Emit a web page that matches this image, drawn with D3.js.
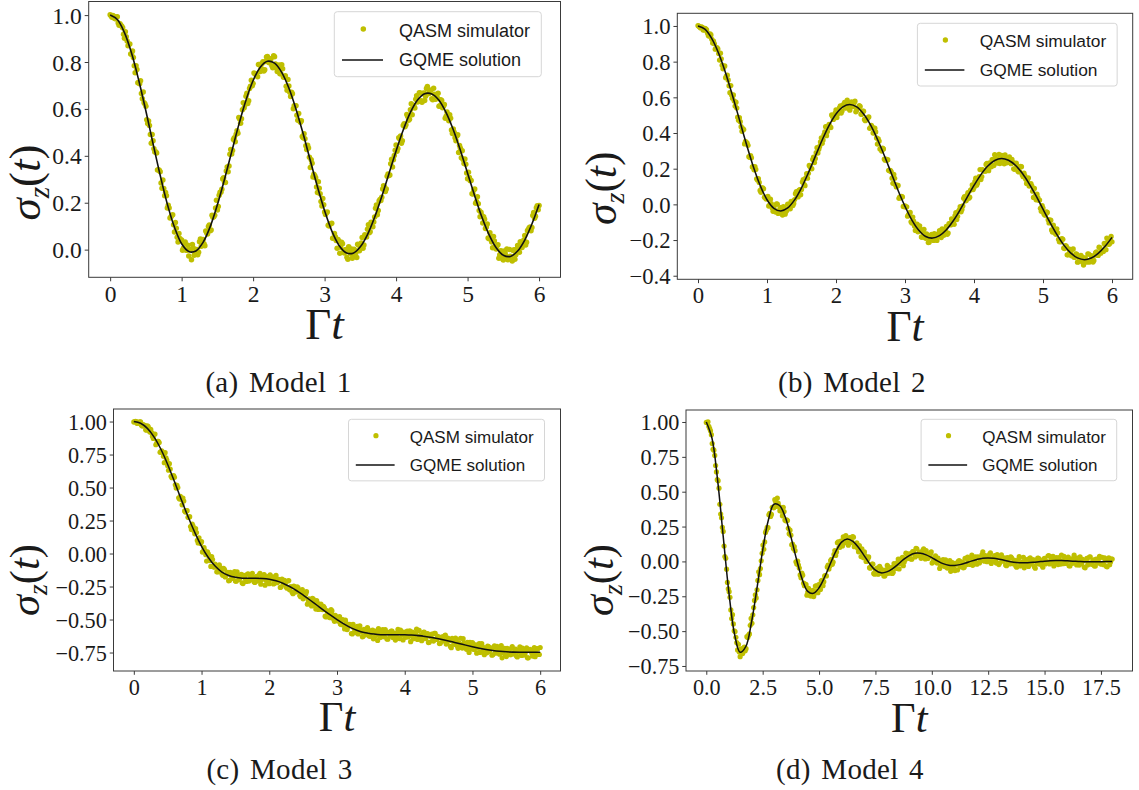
<!DOCTYPE html>
<html>
<head>
<meta charset="utf-8">
<script src="https://cdn.jsdelivr.net/npm/d3@7"></script>
<style>
  html, body { margin: 0; padding: 0; background: #fff; }
  svg { display: block; }
</style>
</head>
<body>
<svg id="fig" width="1139" height="790"></svg>
<script>
// ---------------------------------------------------------------------------
// Data. All σz values are stored in units of 10^-3.
// ---------------------------------------------------------------------------

// GQME solution, sampled every gqmeStep[k] in Γt, starting at Γt = 0
const gqme1 = [1000, 981, 925, 837, 722, 591, 452, 317, 194, 95, 25, -8, -6, 31, 98, 191, 300, 417, 533, 637, 721, 778, 803, 795, 756, 689, 599, 494, 380, 268, 166, 80, 19, -13, -15, 12, 64, 138, 227, 324, 421, 510, 585, 638, 665, 664, 637, 584, 511, 423, 326, 229, 139, 64, 8, -24, -29, -6, 41, 109, 192];
const gqme2 = [1000, 982, 929, 846, 737, 610, 475, 340, 214, 107, 26, -22, -37, -20, 25, 93, 177, 269, 361, 443, 507, 547, 560, 546, 506, 445, 365, 274, 176, 78, -11, -88, -145, -180, -189, -175, -142, -92, -30, 39, 106, 167, 215, 246, 257, 247, 219, 174, 115, 47, -27, -100, -168, -227, -272, -300, -310, -301, -275, -235, -185];
const gqme3 = [1000, 987, 948, 882, 790, 675, 545, 410, 280, 160, 55, -30, -95, -140, -166, -180, -187, -188, -187, -189, -195, -207, -225, -250, -280, -315, -352, -390, -428, -465, -500, -533, -561, -583, -599, -608, -613, -615, -615, -615, -616, -618, -622, -628, -636, -646, -657, -669, -681, -694, -706, -717, -727, -735, -741, -745, -747, -748, -748, -748, -748];
const gqme4 = [1000, 885, 585, 180, -220, -520, -652, -612, -440, -190, 80, 295, 410, 401, 318, 178, 16, -126, -215, -229, -189, -112, -17, 74, 138, 160, 143, 100, 42, -18, -63, -82, -75, -53, -21, 14, 42, 58, 58, 47, 27, 4, -16, -28, -29, -23, -12, 2, 14, 23, 25, 22, 15, 7, -2, -8, -10, -9, -6, -2, 2, 5, 6, 6, 4, 2, 0, -2, -3, -3, -2, -1, 0];
const gqmeStep = [0.1, 0.1, 0.1, 0.25];

// QASM simulator estimates. Run "a" sits at Γt = i*qasmStep[k],
// run "b" at the half steps in between, Γt = (i + 0.5)*qasmStep[k].
const qasm1a = [1001,991,995,984,993,957,957,946,901,908,
869,877,833,819,754,768,713,720,643,626,
611,538,529,454,464,416,412,341,332,262,
261,244,178,177,139,149,75,91,32,47,
41,6,32,-3,-27,-1,22,-24,-5,-22,
34,14,43,17,72,99,81,147,140,177,
169,232,245,301,288,335,332,407,408,470,
460,507,563,539,596,605,654,623,687,722,
708,750,748,789,760,794,762,802,823,797,
814,775,822,774,780,750,788,735,741,680,
698,653,665,614,613,552,548,549,477,473,
427,433,350,368,321,307,244,262,205,218,
160,157,104,110,113,50,55,6,36,10,
25,-14,1,-41,-8,3,-28,-5,-34,20,
5,52,20,57,87,72,117,98,139,190,
167,214,223,272,248,313,316,366,352,401,
446,431,473,454,529,524,576,552,596,575,
614,641,629,669,635,666,636,687,665,680,
643,688,641,649,611,639,605,619,569,576,
575,510,514,477,485,414,432,422,367,364,
302,308,295,237,258,205,196,140,146,140,
90,109,46,54,8,37,3,21,-22,-7,
-44,-14,3,-37,-28,-48,0,-22,18,-11,
26,26,60,31,86,97,94,158,142,187,
188];
const qasm1b = [997,998,985,992,966,963,952,918,929,890,
876,834,847,784,784,712,707,666,672,621,
554,548,491,491,430,417,340,338,284,297,
230,230,189,135,145,106,116,53,69,40,
-3,27,-3,19,-1,-43,7,-20,1,-11,
45,37,25,79,67,105,84,138,147,211,
184,245,257,307,286,352,357,427,423,477,
492,496,557,558,626,619,667,635,697,699,
753,747,737,789,773,801,767,821,800,812,
784,827,791,759,787,750,771,737,697,725,
671,671,601,614,573,580,543,482,494,443,
445,394,383,310,315,267,289,238,186,191,
150,160,101,110,49,69,39,43,-15,31,
-11,-2,-32,12,-16,-37,2,-13,23,-5,
28,6,63,54,106,76,115,118,176,149,
207,209,259,268,259,322,318,385,383,424,
419,477,485,464,537,533,568,556,622,608,
604,656,633,668,628,668,654,696,667,680,
639,663,643,667,614,636,611,560,587,549,
560,495,501,464,490,444,392,384,386,327,
330,294,238,254,198,225,167,159,114,130,
97,50,72,33,56,13,16,-37,-5,-38,
-6,-26,-43,1,-35,-4,-41,2,-4,34,
9,41,20,81,93,80,145,134,179,170];
const qasm2a = [1002,994,995,978,986,978,947,955,925,915,
870,878,845,847,780,770,710,724,665,666,
595,579,573,489,486,435,425,339,348,331,
264,261,212,212,143,144,78,92,87,39,
39,-9,29,-21,-18,-43,1,-38,-19,-60,
-21,-40,1,-17,17,-7,27,71,42,83,
83,138,105,172,174,211,199,265,257,318,
309,350,342,390,435,408,448,431,492,490,
529,508,541,512,557,571,542,561,528,574,
548,578,528,542,549,505,522,469,477,490,
429,434,401,406,338,355,312,315,254,254,
250,189,183,118,146,98,106,42,45,-12,
-9,-14,-59,-45,-105,-94,-146,-111,-148,-141,
-184,-140,-190,-178,-212,-173,-195,-164,-197,-169,
-148,-186,-156,-162,-124,-161,-108,-82,-100,-63,
-85,-40,-13,-29,34,20,51,34,80,109,
95,147,119,156,139,194,186,224,201,232,
211,251,278,242,253,229,275,246,277,233,
255,237,252,199,230,213,182,213,165,175,
141,133,103,116,74,89,26,38,24,-39,
-21,-60,-42,-86,-89,-143,-117,-160,-137,-196,
-196,-192,-245,-231,-283,-249,-274,-252,-296,-278,
-324,-298,-286,-324,-302,-314,-277,-323,-288,-323,
-284,-266,-286,-242,-258,-264,-225,-189,-224,-197,
-210];
const qasm2b = [999,989,992,977,984,960,943,950,904,900,
872,871,809,816,760,776,720,697,626,613,
613,551,540,471,463,410,419,353,343,267,
273,210,194,196,136,123,68,93,40,30,
44,-6,4,-39,-34,2,-51,-24,-39,-13,
-55,-33,0,-25,15,5,60,46,78,54,
125,112,149,147,218,204,252,234,290,288,
325,373,361,406,385,438,432,501,476,511,
487,518,552,524,557,540,584,538,564,548,
569,519,540,553,505,522,476,478,486,426,
442,400,427,372,367,311,299,311,248,247,
191,190,147,168,110,106,34,37,42,-12,
-15,-66,-48,-98,-71,-121,-121,-154,-120,-183,
-157,-183,-165,-214,-189,-168,-202,-176,-202,-163,
-180,-137,-173,-142,-168,-108,-115,-88,-112,-46,
-67,-31,-42,-9,43,21,66,40,83,83,
127,107,137,195,156,191,186,229,189,224,
250,218,257,232,280,250,269,227,253,235,
266,228,235,197,231,185,184,211,155,160,
117,148,106,104,39,46,57,23,-22,-7,
-52,-59,-45,-104,-89,-155,-137,-168,-160,-210,
-210,-196,-248,-234,-283,-265,-288,-250,-297,-279,
-322,-306,-294,-340,-300,-324,-279,-313,-294,-314,
-270,-285,-240,-274,-259,-219,-254,-210,-222,-180];
const qasm3a = [997,1001,986,993,998,966,972,938,967,931,
940,889,902,824,850,841,772,765,688,725,
665,681,585,586,577,496,500,413,411,420,
323,326,274,279,182,208,149,159,80,87,
90,17,23,-57,-3,-53,-24,-99,-80,-138,
-115,-107,-153,-113,-177,-149,-207,-142,-177,-159,
-209,-139,-198,-178,-223,-166,-195,-157,-209,-174,
-150,-214,-183,-205,-163,-232,-176,-159,-203,-174,
-229,-190,-177,-226,-166,-215,-199,-252,-215,-203,
-253,-208,-275,-252,-304,-252,-287,-260,-318,-293,
-343,-306,-289,-353,-351,-397,-346,-395,-356,-424,
-398,-423,-401,-475,-432,-449,-486,-435,-496,-469,
-506,-504,-534,-500,-543,-505,-576,-541,-541,-609,
-564,-599,-552,-593,-576,-631,-575,-614,-561,-624,
-605,-581,-636,-602,-659,-597,-617,-577,-629,-594,
-649,-608,-588,-637,-604,-623,-575,-644,-598,-655,
-610,-595,-632,-586,-622,-646,-606,-573,-642,-623,
-660,-598,-639,-613,-675,-624,-611,-663,-605,-651,
-633,-680,-632,-655,-618,-677,-655,-704,-642,-685,
-641,-699,-677,-642,-716,-676,-702,-673,-749,-692,
-675,-727,-691,-717,-682,-745,-708,-766,-720,-701,
-741,-715,-767,-699,-753,-734,-763,-697,-749,-719,
-781,-733,-766,-718,-759,-728,-777,-745,-707,-772,
-738,-762,-714,-790,-726,-752,-733,-782,-721,-765,
-712];
const qasm3b = [997,1000,988,998,972,977,971,934,962,921,
916,872,905,834,850,767,777,737,764,708,
631,640,574,591,521,516,422,433,369,398,
314,325,275,204,222,172,188,99,119,76,
11,44,-9,12,-25,-98,-46,-104,-97,-139,
-86,-121,-165,-119,-165,-142,-204,-165,-189,-136,
-210,-165,-189,-158,-228,-176,-212,-154,-201,-166,
-185,-219,-173,-208,-150,-196,-163,-240,-183,-212,
-162,-194,-231,-181,-221,-196,-257,-194,-234,-222,
-263,-205,-253,-293,-247,-292,-253,-286,-327,-273,
-330,-308,-384,-344,-375,-339,-362,-421,-375,-418,
-383,-425,-409,-481,-445,-482,-424,-468,-514,-479,
-512,-477,-538,-502,-571,-529,-555,-536,-606,-536,
-589,-571,-609,-548,-590,-626,-580,-614,-576,-627,
-596,-646,-587,-619,-569,-636,-609,-630,-577,-647,
-597,-625,-587,-608,-656,-601,-641,-581,-619,-596,
-635,-587,-607,-668,-596,-629,-607,-651,-583,-622,
-649,-595,-644,-606,-673,-630,-657,-604,-646,-628,
-682,-640,-663,-623,-686,-640,-658,-714,-657,-688,
-651,-718,-685,-710,-645,-682,-726,-706,-673,-723,
-689,-707,-755,-701,-749,-683,-734,-717,-752,-705,
-727,-770,-717,-753,-703,-745,-726,-790,-735,-771,
-718,-744,-766,-705,-761,-724,-784,-733,-754,-717,
-769,-740,-790,-728,-735,-777,-713,-758,-723,-765];
const qasm4a = [997,1001,953,909,804,760,642,579,410,313,
215,35,-56,-196,-257,-410,-448,-503,-583,-594,
-683,-647,-621,-641,-540,-529,-458,-444,-331,-239,
-204,-75,-51,58,87,208,245,334,323,388,
384,430,454,395,385,327,358,291,293,198,
188,125,106,-3,2,-48,-118,-99,-174,-167,
-220,-222,-248,-207,-230,-176,-224,-169,-140,-174,
-104,-104,-26,-32,15,-5,78,68,140,102,
141,176,134,169,116,170,144,174,113,133,
69,90,90,27,40,4,32,-49,-19,-86,
-58,-48,-88,-50,-85,-104,-63,-29,-84,-59,
-86,-16,-44,-8,-54,5,30,-5,59,27,
54,18,70,55,94,43,66,22,79,38,
78,21,39,68,-4,30,1,24,-50,0,
13,-37,-3,-30,5,-52,-16,-66,-20,1,
-32,-3,-46,22,-23,0,-22,45,2,33,
-20,29,1,49,13,42,-2,28,62,1,
31,7,49,-23,34,7,23,-25,28,-15,
32,-12,10,-32,2,34,-30,-3,-46,13,
-10,21,-19,12,-38,9,23,-19,4,-41,
22,-6,39,-18,13,36,-8,27,-23,7,
45,-16,17,-1,31,-32,19,-8,24,-25,
5,32,-17,7,-46,22,-10,33,-21,11,
-33,0,19,-14,29,-24,9,-39,25,-4,
17];
const qasm4b = [996,968,937,845,798,688,586,525,340,244,
110,22,-151,-217,-348,-382,-498,-544,-635,-649,
-628,-661,-614,-626,-545,-520,-409,-383,-280,-262,
-136,-95,4,117,140,223,242,345,337,385,
443,395,418,364,360,388,297,299,237,224,
119,92,77,-19,-26,-97,-83,-156,-162,-242,
-194,-246,-227,-252,-177,-213,-167,-201,-135,-145,
-101,-40,-55,5,-21,50,43,134,101,145,
111,149,185,137,167,134,178,106,125,95,
113,35,56,68,0,17,-45,-38,-20,-92,
-57,-92,-35,-85,-63,-104,-88,-37,-81,-45,
-77,-38,-51,17,-16,22,-31,11,55,22,
53,16,70,32,90,45,62,35,91,18,
57,29,54,-12,16,40,-12,9,-34,5,
-30,12,-48,-23,-71,-8,-34,-14,-61,6,
-39,-9,-41,-18,31,-16,24,-28,12,-8,
33,-11,11,69,2,33,11,51,-15,19,
41,-12,29,-10,47,2,24,-31,3,-18,
26,-17,0,-42,13,-33,-19,30,-26,1,
-36,25,-8,12,-49,-17,22,3,-29,16,
-18,-1,41,-12,32,-32,14,-4,27,-19,
-1,36,-15,17,-31,6,-14,45,-8,24,
-26,-4,15,-42,9,-25,31,-17,2,-32,
17,-11,37,-20,-14,25,-34,8,-24,16];
const qasmStep = [0.025, 0.025, 0.025, 0.075];

const captions = ["(a) Model 1", "(b) Model 2", "(c) Model 3", "(d) Model 4"];
const legendLabels = ["QASM simulator", "GQME solution"];

const xTicks = [
  [0, 1, 2, 3, 4, 5, 6],
  [0, 1, 2, 3, 4, 5, 6],
  [0, 1, 2, 3, 4, 5, 6],
  [0, 2.5, 5, 7.5, 10, 12.5, 15, 17.5]
];
const yTicks = [
  [0, 0.2, 0.4, 0.6, 0.8, 1.0],
  [-0.4, -0.2, 0, 0.2, 0.4, 0.6, 0.8, 1.0],
  [-0.75, -0.5, -0.25, 0, 0.25, 0.5, 0.75, 1.0],
  [-0.75, -0.5, -0.25, 0, 0.25, 0.5, 0.75, 1.0]
];

// ---------------------------------------------------------------------------
// Layout of the four sub-figures
// ---------------------------------------------------------------------------
const layout = [
  { box: {l: 88.7,  t: 1.5,  r: 560.5,  b: 277.3}, x: [-0.3, 6.3], y: [-0.118, 1.058], s: 1.0,
    xFmt: "d",   yFmt: ".1f", cap: [278.5, 392], ylab: [28.3, 182.5], xlabBase: 339,   legend: {l: 334.3, t: 11.7} },
  { box: {l: 677.3, t: 13.3, r: 1132.7, b: 279.3}, x: [-0.3, 6.3], y: [-0.42, 1.071],  s: 0.965,
    xFmt: "d",   yFmt: ".1f", cap: [852, 392],   ylab: [604.7, 188.3], xlabBase: 341,   legend: {l: 917.4, t: 23.3} },
  { box: {l: 113.5, t: 409,  r: 560.5,  b: 671},   x: [-0.3, 6.3], y: [-0.89, 1.095],  s: 0.947,
    xFmt: "d",   yFmt: ".2f", cap: [279.5, 779], ylab: [28.3, 580],   xlabBase: 731,   legend: {l: 348.5, t: 419.3} },
  { box: {l: 686,   t: 410,  r: 1132.5, b: 671},   x: [-0.9, 18.9], y: [-0.786, 1.086], s: 0.945,
    xFmt: ".1f", yFmt: ".2f", cap: [850, 779],   ylab: [602.8, 580],   xlabBase: 732,   legend: {l: 921.1, t: 419.3} }
];

const gqmeSeries = [gqme1, gqme2, gqme3, gqme4];
const qasmRuns = [[qasm1a, qasm1b], [qasm2a, qasm2b], [qasm3a, qasm3b], [qasm4a, qasm4b]];

const SERIF = "'Liberation Serif', 'Times New Roman', serif";
const SANS = "'Liberation Sans', Arial, sans-serif";
const DOT = "#bfbf00";
const INK = "#1a1a1a";
const SPINE = "#3a3a3a";
const MILLI = 1e-3;

const svg = d3.select("#fig");
svg.append("rect").attr("width", 1139).attr("height", 790).attr("fill", "#fff");

layout.forEach((L, k) => {
  const s = L.s;
  const g = svg.append("g").attr("class", "panel-" + k);
  const xs = d3.scaleLinear().domain(L.x).range([L.box.l, L.box.r]);
  const ys = d3.scaleLinear().domain(L.y).range([L.box.b, L.box.t]);

  // simulator points (two interleaved runs)
  const [runA, runB] = qasmRuns[k];
  const qs = runA.map((v, i) => ({ t: i * qasmStep[k], v: v * MILLI }))
    .concat(runB.map((v, i) => ({ t: (i + 0.5) * qasmStep[k], v: v * MILLI })));
  g.append("g").selectAll("circle").data(qs).join("circle")
    .attr("cx", d => xs(d.t))
    .attr("cy", d => ys(d.v))
    .attr("r", 2.75 * s)
    .attr("fill", DOT);

  // GQME curve
  const gs = gqmeSeries[k].map((v, i) => ({ t: i * gqmeStep[k], v: v * MILLI }));
  const line = d3.line().x(d => xs(d.t)).y(d => ys(d.v)).curve(d3.curveCatmullRom.alpha(0.5));
  g.append("path").datum(gs)
    .attr("d", line)
    .attr("fill", "none")
    .attr("stroke", "#111")
    .attr("stroke-width", 1.6 * s);

  // axes
  const tickLen = 4 * s;
  const fontTick = 23.5 * s;
  const xAxis = d3.axisBottom(xs).tickValues(xTicks[k]).tickFormat(d3.format(L.xFmt))
    .tickSizeInner(tickLen).tickSizeOuter(0).tickPadding(3.5 * s);
  const yAxis = d3.axisLeft(ys).tickValues(yTicks[k]).tickFormat(d3.format(L.yFmt))
    .tickSizeInner(tickLen).tickSizeOuter(0).tickPadding(3 * s);

  const gx = g.append("g").attr("transform", `translate(0,${L.box.b})`).call(xAxis);
  const gy = g.append("g").attr("transform", `translate(${L.box.l},0)`).call(yAxis);
  [gx, gy].forEach(ax => {
    ax.select(".domain").remove();
    ax.selectAll(".tick line").attr("stroke", SPINE).attr("stroke-width", 1);
    ax.selectAll(".tick text")
      .attr("fill", INK)
      .style("font-family", SERIF)
      .style("font-size", fontTick + "px");
  });
  gx.selectAll(".tick text").attr("dy", "0.74em");
  gy.selectAll(".tick text").attr("dy", "0.34em");

  // frame
  g.append("rect")
    .attr("x", L.box.l).attr("y", L.box.t)
    .attr("width", L.box.r - L.box.l).attr("height", L.box.b - L.box.t)
    .attr("fill", "none").attr("stroke", SPINE).attr("stroke-width", 1);

  // axis titles
  const fLab = 45 * s;
  const xl = g.append("text")
    .attr("x", (L.box.l + L.box.r) / 2).attr("y", L.xlabBase)
    .attr("text-anchor", "middle")
    .attr("fill", INK)
    .style("font-family", SERIF).style("font-size", fLab + "px");
  xl.append("tspan").text("Γ");
  xl.append("tspan").style("font-style", "italic").text("t");

  const yl = g.append("text")
    .attr("transform", `translate(${L.ylab[0] + 0.25 * fLab},${L.ylab[1]}) rotate(-90)`)
    .attr("text-anchor", "middle")
    .attr("fill", INK)
    .style("font-family", SERIF).style("font-size", fLab + "px");
  yl.append("tspan").style("font-style", "italic").text("σ");
  yl.append("tspan").style("font-style", "italic").style("font-size", (0.65 * fLab) + "px")
    .attr("dy", 0.2 * fLab).text("z");
  yl.append("tspan").attr("dy", -0.2 * fLab).text("(");
  yl.append("tspan").style("font-style", "italic").text("t");
  yl.append("tspan").text(")");

  // legend
  const lg = g.append("g").attr("transform", `translate(${L.legend.l},${L.legend.t})`);
  lg.append("rect")
    .attr("width", 207 * s).attr("height", 65 * s)
    .attr("rx", 3 * s)
    .attr("fill", "#fff").attr("fill-opacity", 0.85)
    .attr("stroke", "#d6d6d6").attr("stroke-width", 1);
  lg.append("circle").attr("cx", 29 * s).attr("cy", 17.3 * s).attr("r", 2.75 * s).attr("fill", DOT);
  lg.append("line")
    .attr("x1", 7.7 * s).attr("x2", 48.7 * s)
    .attr("y1", 48.3 * s).attr("y2", 48.3 * s)
    .attr("stroke", "#111").attr("stroke-width", 1.6 * s);
  legendLabels.forEach((lab, j) => {
    lg.append("text")
      .attr("x", 64.7 * s).attr("y", (j === 0 ? 25 : 54.3) * s)
      .attr("fill", INK)
      .style("font-family", SANS).style("font-size", (18 * s) + "px")
      .text(lab);
  });

  // caption
  svg.append("text")
    .attr("x", L.cap[0]).attr("y", L.cap[1])
    .attr("text-anchor", "middle")
    .attr("fill", INK)
    .style("font-family", SERIF).style("font-size", "29px")
    .style("letter-spacing", "0.3px").style("word-spacing", "3px")
    .text(captions[k]);
});
</script>
</body>
</html>
